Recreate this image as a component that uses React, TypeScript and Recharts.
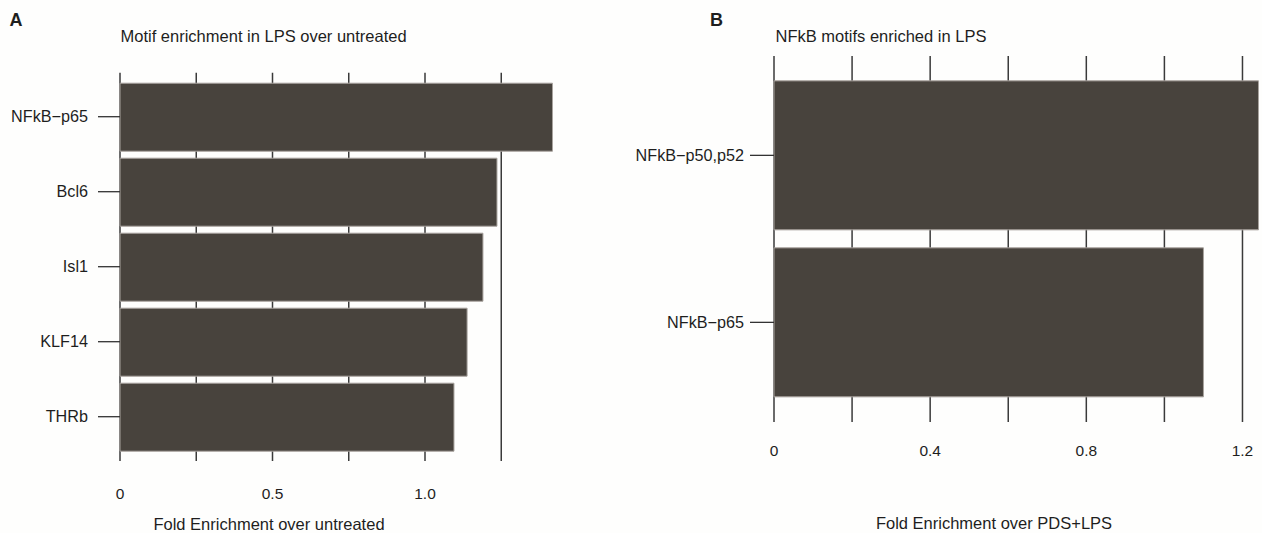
import React from 'react'
import { BarChart, Bar, XAxis, YAxis, CartesianGrid } from 'recharts'

// Panel A: motif enrichment in LPS over untreated
const motifsA = ['NFkB\u2212p65', 'Bcl6', 'Isl1', 'KLF14', 'THRb']
const foldA = [1.418, 1.236, 1.19, 1.138, 1.095]
const ticksA = [0, 0.25, 0.5, 0.75, 1.0, 1.25]
const tickLabelsA = ['0', '', '0.5', '', '1.0', '']

// Panel B: NFkB motifs enriched in LPS
const motifsB = ['NFkB\u2212p50,p52', 'NFkB\u2212p65']
const foldB = [1.241, 1.1]
const ticksB = [0, 0.2, 0.4, 0.6, 0.8, 1.0, 1.2]
const tickLabelsB = ['0', '', '0.4', '', '0.8', '', '1.2']

const FONT = '"Liberation Sans", Arial, Helvetica, sans-serif'
const BAR_FILL = '#48433d'
const BAR_EDGE = '#a8a39e'
const GRID = '#3a3a3a'
const INK = '#1e1e1e'
const TITLE_FS = 16.5

const dataA = motifsA.map((motif, i) => ({ motif, fold: foldA[i] }))
const dataB = motifsB.map((motif, i) => ({ motif, fold: foldB[i] }))

const labelFor = (ticks: number[], labels: string[]) => (v: number) => {
  const i = ticks.findIndex((t) => Math.abs(t - v) < 1e-9)
  return i >= 0 ? labels[i] : ''
}

const xTickStyle = { fill: INK, fontSize: 15.5, fontFamily: FONT }
const yTickStyle = { fill: INK, fontSize: 16.2, fontFamily: FONT }

export default function App() {
  return (
    <div
      style={{
        position: 'absolute',
        left: 0,
        top: 0,
        width: 1262,
        height: 533,
        background: '#fefefd',
        fontFamily: FONT,
        overflow: 'hidden',
      }}
    >
      <div style={{ position: 'absolute', left: 0, top: 0 }}>
        <BarChart
          width={620}
          height={533}
          data={dataA}
          layout="vertical"
          margin={{ top: 72.7, right: 42.5, bottom: 0, left: 0 }}
        >
          <CartesianGrid
            horizontal={false}
            verticalValues={ticksA}
            stroke={GRID}
            strokeWidth={1.5}
          />
          <XAxis
            type="number"
            domain={[0, 1.5]}
            ticks={ticksA}
            tickFormatter={labelFor(ticksA, tickLabelsA)}
            axisLine={false}
            tickLine={false}
            tickSize={0}
            tickMargin={27}
            height={72}
            interval={0}
            tick={xTickStyle}
          />
          <YAxis
            type="category"
            dataKey="motif"
            width={120}
            axisLine={false}
            tickLine={{ stroke: '#333', strokeWidth: 1.3 }}
            tickSize={22}
            tickMargin={10}
            padding={{ top: 6.5, bottom: 6.8 }}
            interval={0}
            tick={yTickStyle}
          />
          <Bar
            dataKey="fold"
            fill={BAR_FILL}
            stroke={BAR_EDGE}
            strokeWidth={1}
            barSize={68}
            isAnimationActive={false}
          />
        </BarChart>
      </div>

      <div style={{ position: 'absolute', left: 620, top: 0 }}>
        <BarChart
          width={642}
          height={533}
          data={dataB}
          layout="vertical"
          margin={{ top: 56, right: 0, bottom: 0, left: 0 }}
        >
          <CartesianGrid
            horizontal={false}
            verticalValues={ticksB}
            stroke={GRID}
            strokeWidth={1.5}
          />
          <XAxis
            type="number"
            domain={[0, 1.25]}
            ticks={ticksB}
            tickFormatter={labelFor(ticksB, tickLabelsB)}
            axisLine={false}
            tickLine={false}
            tickSize={0}
            tickMargin={23}
            height={111}
            interval={0}
            tick={xTickStyle}
          />
          <YAxis
            type="category"
            dataKey="motif"
            width={154}
            axisLine={false}
            tickLine={{ stroke: '#333', strokeWidth: 1.3 }}
            tickSize={24}
            tickMargin={6}
            padding={{ top: 15.85, bottom: 16.15 }}
            interval={0}
            tick={yTickStyle}
          />
          <Bar
            dataKey="fold"
            fill={BAR_FILL}
            stroke={BAR_EDGE}
            strokeWidth={1}
            barSize={149}
            isAnimationActive={false}
          />
        </BarChart>
      </div>

      {/* panel letters, titles and axis titles */}
      <svg
        width={1262}
        height={533}
        style={{ position: 'absolute', left: 0, top: 0, pointerEvents: 'none' }}
      >
        <g fill={INK} fontFamily={FONT}>
          <text x={9.5} y={26} fontSize={18} fontWeight="bold">A</text>
          <text x={710} y={26} fontSize={18} fontWeight="bold">B</text>
          <text x={120.5} y={42} fontSize={TITLE_FS}>Motif enrichment in LPS over untreated</text>
          <text x={775.5} y={42} fontSize={TITLE_FS}>NFkB motifs enriched in LPS</text>
          <text x={269} y={530} fontSize={TITLE_FS} textAnchor="middle">Fold Enrichment over untreated</text>
          <text x={994} y={529} fontSize={TITLE_FS} textAnchor="middle">Fold Enrichment over PDS+LPS</text>
        </g>
      </svg>
    </div>
  )
}
